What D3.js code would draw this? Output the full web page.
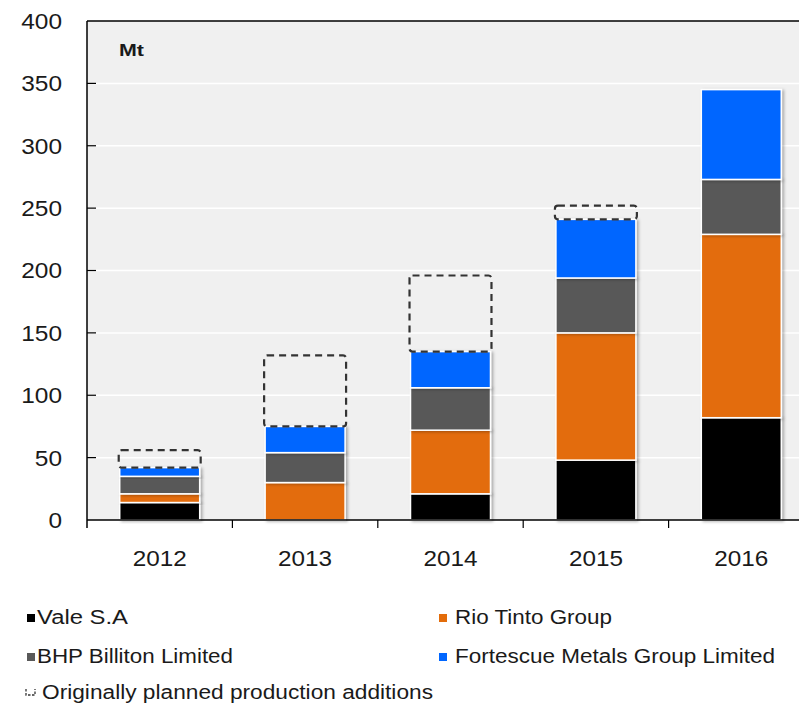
<!DOCTYPE html>
<html><head><meta charset="utf-8">
<script src="https://cdn.jsdelivr.net/npm/d3@7/dist/d3.min.js"></script>
<style>
html,body{margin:0;padding:0;background:#fff;}
svg{display:block;font-family:"Liberation Sans",Arial,sans-serif;}
</style></head>
<body>
<svg id="chart" width="799" height="705"></svg>
<script>
const years = ["2012","2013","2014","2015","2016"];
const vale = [14, 0, 21, 48, 82];
const rioTinto = [7, 30, 51, 102, 147];
const bhp = [14, 24, 34, 44, 44];
const fortescue = [7, 21, 29, 47, 72];
const plannedAdditions = [14, 57, 61, 11, 0];
const yTicks = [0,50,100,150,200,250,300,350,400];
const seriesNames = ["Vale S.A","Rio Tinto Group","BHP Billiton Limited","Fortescue Metals Group Limited"];
const seriesColors = ["#000000","#e36c0a","#595959","#0066ff"];
const plannedName = "Originally planned production additions";

const svg = d3.select("#chart");
const x0 = 87, x1 = 814, yBase = 520, yTop = 21;
const x = d3.scaleBand().domain(years).range([x0, x1]).paddingInner(0.45).paddingOuter(0.225);
const y = d3.scaleLinear().domain([0, 400]).range([yBase, yTop]);

const defs = svg.append("defs");
const f = defs.append("filter").attr("id","sh").attr("x","-20%").attr("y","-20%").attr("width","140%").attr("height","140%");
f.append("feDropShadow").attr("dx",2).attr("dy",1).attr("stdDeviation",1.5).attr("flood-color","#000").attr("flood-opacity",0.3);

// plot background
svg.append("rect").attr("x", x0).attr("y", yTop).attr("width", x1 - x0).attr("height", yBase - yTop).attr("fill", "#f0f0f0");

// gridlines
svg.append("g").selectAll("line").data(yTicks.filter(d => d > 0 && d < 400)).join("line")
  .attr("x1", x0).attr("x2", x1).attr("y1", d => y(d)).attr("y2", d => y(d))
  .attr("stroke", "#ffffff").attr("stroke-width", 1.5);

// stacked data
const table = years.map((yr, i) => ({year: yr, s0: vale[i], s1: rioTinto[i], s2: bhp[i], s3: fortescue[i]}));
const stack = d3.stack().keys(["s0","s1","s2","s3"])(table);

const gBars = svg.append("g");
stack.forEach((layer, li) => {
  gBars.append("g").selectAll("rect").data(layer.filter(d => d[1] - d[0] > 0)).join("rect")
    .attr("x", d => x(d.data.year))
    .attr("width", x.bandwidth())
    .attr("y", d => y(d[1]))
    .attr("height", d => y(d[0]) - y(d[1]))
    .attr("fill", seriesColors[li])
    .attr("stroke", "#ffffff").attr("stroke-width", 1.5)
    .attr("filter", "url(#sh)");
});

// planned additions dashed boxes
const totals = years.map((yr, i) => vale[i] + rioTinto[i] + bhp[i] + fortescue[i]);
svg.append("g").selectAll("rect").data(years.map((yr, i) => ({year: yr, base: totals[i], add: plannedAdditions[i]})).filter(d => d.add > 0)).join("rect")
  .attr("x", d => x(d.year) - 1)
  .attr("width", x.bandwidth() + 2)
  .attr("y", d => y(d.base + d.add))
  .attr("height", d => y(d.base) - y(d.base + d.add))
  .attr("rx", 3)
  .attr("fill", "none")
  .attr("stroke", "#333333").attr("stroke-width", 2.2).attr("stroke-dasharray", "7,5");

// frame: left axis and top
svg.append("line").attr("x1", x0).attr("x2", x0).attr("y1", yTop).attr("y2", yBase + 8).attr("stroke", "#000").attr("stroke-width", 1.5);
svg.append("line").attr("x1", x0).attr("x2", x1).attr("y1", yTop).attr("y2", yTop).attr("stroke", "#000").attr("stroke-width", 1.5);
svg.append("line").attr("x1", x0).attr("x2", x1).attr("y1", yBase).attr("y2", yBase).attr("stroke", "#000").attr("stroke-width", 1.5);

// y ticks
svg.append("g").selectAll("line").data(yTicks.filter(d => d > 0 && d < 400)).join("line")
  .attr("x1", x0).attr("x2", x0 + 9).attr("y1", d => y(d)).attr("y2", d => y(d))
  .attr("stroke", "#000").attr("stroke-width", 1.2);
svg.append("g").selectAll("text").data(yTicks).join("text")
  .attr("x", 62).attr("y", d => y(d)).attr("dy", "0.36em")
  .attr("text-anchor", "end").attr("font-size", 22).attr("fill", "#1a1a1a")
  .attr("textLength", d => String(d).length * 13.6).attr("lengthAdjust", "spacingAndGlyphs")
  .text(d => d);

// x ticks between categories
const step = x.step();
svg.append("g").selectAll("line").data(years.slice(1)).join("line")
  .attr("x1", d => x(d) - (step - x.bandwidth()) / 2)
  .attr("x2", d => x(d) - (step - x.bandwidth()) / 2)
  .attr("y1", yBase).attr("y2", yBase + 8)
  .attr("stroke", "#000").attr("stroke-width", 1.2);
svg.append("g").selectAll("text").data(years).join("text")
  .attr("x", d => x(d) + x.bandwidth() / 2).attr("y", 566)
  .attr("text-anchor", "middle").attr("font-size", 22).attr("fill", "#1a1a1a")
  .attr("textLength", 54).attr("lengthAdjust", "spacingAndGlyphs")
  .text(d => d);

// unit label
svg.append("text").attr("x", 119).attr("y", 56).attr("font-size", 17).attr("font-weight", "bold").attr("fill", "#1a1a1a")
  .attr("textLength", 25).attr("lengthAdjust", "spacingAndGlyphs").text("Mt");

// legend
const legendItems = [
  {name: seriesNames[0], color: seriesColors[0], mx: 27, tx: 37, ty: 624, w: 91},
  {name: seriesNames[1], color: seriesColors[1], mx: 439, tx: 455, ty: 624, w: 157},
  {name: seriesNames[2], color: seriesColors[2], mx: 27, tx: 37, ty: 663, w: 196},
  {name: seriesNames[3], color: seriesColors[3], mx: 439, tx: 455, ty: 663, w: 320}
];
const lg = svg.append("g");
legendItems.forEach(it => {
  lg.append("rect").attr("x", it.mx).attr("y", it.ty - 10).attr("width", 8).attr("height", 8).attr("fill", it.color);
  lg.append("text").attr("x", it.tx).attr("y", it.ty).attr("font-size", 19.5).attr("fill", "#1a1a1a")
    .attr("textLength", it.w).attr("lengthAdjust", "spacingAndGlyphs").text(it.name);
});
lg.append("path").attr("d", "M26,689 L26,695 L35,695 L35,689").attr("fill", "none")
  .attr("stroke", "#333").attr("stroke-width", 1.3).attr("stroke-dasharray", "2.5,1.5");
lg.append("text").attr("x", 42).attr("y", 699).attr("font-size", 19.5).attr("fill", "#1a1a1a")
  .attr("textLength", 391).attr("lengthAdjust", "spacingAndGlyphs").text(plannedName);
</script>
</body></html>
